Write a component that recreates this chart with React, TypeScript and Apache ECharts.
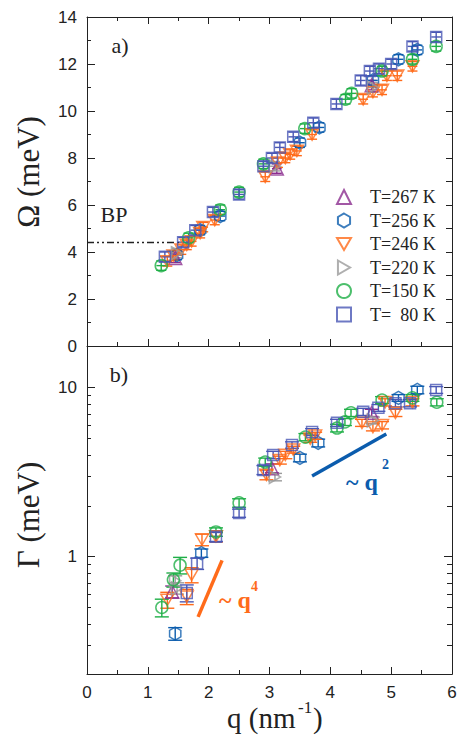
import React, { useEffect, useRef } from 'react';
import * as echarts from 'echarts';

const X_MIN = 0;
const X_MAX = 6;
const OMEGA_MIN = 0;
const OMEGA_MAX = 14;
const GAMMA_MIN = 0.202;
const GAMMA_MAX = 17.65;
const GAMMA_MAJOR = [1, 10];
const GAMMA_MINOR = [0.3, 0.4, 0.5, 0.6, 0.7, 0.8, 0.9, 2, 3, 4, 5, 6, 7, 8, 9];

const NAMES = ['T=267 K', 'T=256 K', 'T=246 K', 'T=220 K', 'T=150 K', 'T=\u00a0\u00a080 K'];
const COLORS = ['#8B2D8F', '#0B5CAD', '#FF6B1A', '#9B9B9B', '#1FAF47', '#4A58B5'];

// panel a) : [q, Omega]
const omega267 = [[1.45, 3.75], [3.12, 7.55], [4.68, 11.1]];
const omega256 = [[1.48, 3.87], [1.86, 4.93], [2.19, 5.53], [3.5, 8.65], [3.82, 9.3], [4.7, 11.3], [5.12, 12.2], [5.43, 12.6]];
const omega246 = [[1.32, 3.6], [1.42, 3.85], [1.55, 4.1], [1.64, 4.3], [1.72, 4.45], [1.86, 4.8], [1.91, 5.06], [2.1, 5.36], [2.93, 7.2], [3.14, 7.8], [3.26, 8.0], [3.34, 8.15], [3.45, 8.3], [3.7, 9.0], [4.54, 10.5], [4.7, 10.8], [4.85, 10.9], [4.93, 11.5], [5.1, 11.5], [5.35, 11.9]];
const omega220 = [[1.48, 3.95], [3.09, 7.65], [4.7, 11.0]];
const omega150 = [[1.22, 3.42], [1.67, 4.6], [2.19, 5.8], [2.5, 6.55], [2.9, 7.75], [3.58, 9.25], [4.25, 10.5], [4.35, 10.75], [4.85, 11.7], [5.35, 12.2], [5.74, 12.75]];
const omega80 = [[1.28, 3.8], [1.58, 4.42], [1.78, 4.93], [2.07, 5.7], [2.5, 6.45], [2.9, 7.65], [3.04, 8.0], [3.17, 8.45], [3.39, 8.9], [3.72, 9.5], [4.1, 10.3], [4.5, 11.3], [4.65, 11.7], [4.8, 11.8], [5.0, 12.0], [5.35, 12.75], [5.74, 13.15]];
const OMEGA_ERR = 0.2;
const Q_ERR = 0.08;

// panel b) : [q, Gamma, error]
const gamma267 = [[1.4, 0.62, 0.05], [3.04, 3.34, 0.2], [4.68, 7.1, 0.35]];
const gamma256 = [[1.45, 0.35, 0.03], [1.88, 1.05, 0.06], [3.5, 3.84, 0.2], [3.8, 4.71, 0.25], [5.12, 8.7, 0.4], [5.43, 9.7, 0.5]];
const gamma246 = [[1.32, 0.555, 0.06], [1.64, 0.58, 0.06], [1.72, 0.78, 0.08], [1.89, 1.26, 0.1], [2.12, 1.32, 0.1], [2.95, 3.05, 0.2], [3.17, 3.73, 0.2], [3.26, 4.0, 0.2], [3.39, 4.3, 0.2], [3.67, 5.0, 0.25], [3.75, 5.2, 0.25], [4.52, 6.2, 0.3], [4.7, 5.85, 0.3], [4.85, 6.0, 0.3], [4.9, 8.2, 0.4], [5.07, 7.1, 0.35], [5.35, 8.2, 0.4]];
const gamma220 = [[1.45, 0.72, 0.05], [1.48, 0.65, 0.05], [3.09, 2.96, 0.15], [4.7, 6.4, 0.3]];
const gamma150 = [[1.23, 0.5, 0.06], [1.42, 0.73, 0.07], [1.53, 0.89, 0.1], [2.12, 1.4, 0.08], [2.5, 2.08, 0.12], [2.93, 3.63, 0.2], [3.59, 5.1, 0.25], [4.11, 5.77, 0.3], [4.24, 6.27, 0.3], [4.34, 7.1, 0.35], [4.85, 8.45, 0.4], [5.35, 8.7, 0.4], [5.75, 8.2, 0.4]];
const gamma80 = [[1.64, 0.61, 0.07], [1.81, 0.91, 0.07], [2.12, 1.31, 0.08], [2.5, 1.81, 0.1], [2.9, 3.26, 0.2], [3.06, 4.0, 0.2], [3.37, 4.58, 0.2], [3.7, 5.47, 0.25], [4.11, 6.2, 0.3], [4.54, 7.2, 0.35], [4.79, 7.6, 0.35], [5.07, 8.1, 0.4], [5.31, 8.1, 0.4], [5.74, 9.7, 0.45]];

const OMEGA_SETS = [omega267, omega256, omega246, omega220, omega150, omega80];
const GAMMA_SETS = [gamma267, gamma256, gamma246, gamma220, gamma150, gamma80];

// guide lines
const bpLine = [[0, 4.4], [1.53, 4.4]];
const q2Line = [[3.7, 3.0], [4.92, 5.32]];
const q4Line = [[1.826, 0.44], [2.22, 0.95]];

const HEX = 'path://M5,0L9.33,2.5L9.33,7.5L5,10L0.67,7.5L0.67,2.5Z';
const DOWN = 'path://M0,0L10,0L5,8.66Z';
const RIGHT = 'path://M0,0L8.66,5L0,10Z';
const SYMBOLS = ['triangle', HEX, DOWN, RIGHT, 'circle', 'rect'];
const SIZES = [13, 13, 13, 13, 12, 11];

const SERIF = '"Liberation Serif", "Times New Roman", serif';
const SANS = '"Liberation Sans", Arial, sans-serif';
const INK = '#222';

function errorSeries(data: number[][], color: string, xi: number, yi: number, cap: number, xErr: number) {
  return {
    type: 'custom',
    coordinateSystem: 'cartesian2d',
    xAxisIndex: xi,
    yAxisIndex: yi,
    silent: true,
    encode: { x: 0, y: 1 },
    data,
    z: 2,
    renderItem: (params: any, api: any) => {
      const x = api.value(0);
      const y = api.value(1);
      const e = api.value(2);
      const c = api.coord([x, y]);
      const lo = api.coord([x, y - e]);
      const hi = api.coord([x, y + e]);
      const style = { stroke: color, lineWidth: 1.4 };
      const children: any[] = [
        { type: 'line', shape: { x1: c[0], y1: lo[1], x2: c[0], y2: hi[1] }, style },
        { type: 'line', shape: { x1: c[0] - cap, y1: lo[1], x2: c[0] + cap, y2: lo[1] }, style },
        { type: 'line', shape: { x1: c[0] - cap, y1: hi[1], x2: c[0] + cap, y2: hi[1] }, style },
      ];
      if (xErr > 0) {
        const l = api.coord([x - xErr, y]);
        const r = api.coord([x + xErr, y]);
        children.push({ type: 'line', shape: { x1: l[0], y1: c[1], x2: r[0], y2: c[1] }, style });
      }
      return { type: 'group', children };
    },
  };
}

export default function App() {
  const ref = useRef<HTMLDivElement>(null);
  useEffect(() => {
    if (!ref.current) return;
    const chart = echarts.init(ref.current, undefined, { renderer: 'svg' });
    const line = { lineStyle: { color: INK, width: 1 } };
    const xBase = (gridIndex: number, position: string, labels: boolean) => ({
      type: 'value', gridIndex, position, min: X_MIN, max: X_MAX, interval: 1,
      axisLine: { show: true, onZero: false, ...line },
      axisTick: { show: true, inside: true, length: 7, ...line },
      minorTick: { show: true, splitNumber: 2, length: 4, ...line },
      axisLabel: { show: labels, color: INK, fontFamily: SANS, fontSize: 17, margin: 10 },
      splitLine: { show: false }, minorSplitLine: { show: false },
    });
    const yLog = (position: string, values: number[], len: number, labels: boolean) => ({
      type: 'log', logBase: 10, gridIndex: 1, position, min: GAMMA_MIN, max: GAMMA_MAX,
      axisLine: { show: true, onZero: false, ...line },
      axisTick: { show: true, inside: true, length: len, customValues: values, ...line },
      axisLabel: { show: labels, customValues: values, color: INK, fontFamily: SANS, fontSize: 17, margin: 10 },
      splitLine: { show: false }, minorTick: { show: false },
    });

    const series: any[] = [];
    NAMES.forEach((name, i) => {
      const common = {
        name, type: 'scatter', symbol: SYMBOLS[i], symbolSize: SIZES[i], symbolKeepAspect: true,
        itemStyle: { color: 'rgba(0,0,0,0)', borderColor: COLORS[i], borderWidth: 1.5 },
        emphasis: { disabled: true }, silent: true, z: 3,
      };
      series.push(errorSeries(OMEGA_SETS[i].map((d) => [d[0], d[1], OMEGA_ERR]), COLORS[i], 0, 0, 5, Q_ERR));
      series.push({ ...common, xAxisIndex: 0, yAxisIndex: 0, data: OMEGA_SETS[i] });
      series.push(errorSeries(GAMMA_SETS[i], COLORS[i], 2, 2, 7, 0));
      series.push({ ...common, xAxisIndex: 2, yAxisIndex: 2, data: GAMMA_SETS[i].map((d) => [d[0], d[1]]) });
    });
    series.push({
      type: 'line', xAxisIndex: 0, yAxisIndex: 0, data: bpLine, symbol: 'none', silent: true,
      lineStyle: { color: INK, width: 1.5, type: [7, 3, 2, 3, 2, 3] },
    });
    series.push({
      type: 'line', xAxisIndex: 2, yAxisIndex: 2, data: q2Line, symbol: 'none', silent: true,
      lineStyle: { color: '#0B5CAD', width: 3.5 },
    });
    series.push({
      type: 'line', xAxisIndex: 2, yAxisIndex: 2, data: q4Line, symbol: 'none', silent: true,
      lineStyle: { color: '#FF6B1A', width: 3.5 },
    });

    const txt = (x: number, y: number, text: string, font: string, fill = INK, extra: any = {}) => ({
      type: 'text', x, y, silent: true, ...extra,
      style: { text, font, fill, align: extra.align || 'left', verticalAlign: 'middle' },
    });

    chart.setOption({
      animation: false,
      backgroundColor: '#fff',
      grid: [
        { left: 87, top: 17, width: 365, height: 329, outerBoundsMode: 'none', containLabel: false },
        { left: 87, top: 346, width: 365, height: 328, outerBoundsMode: 'none', containLabel: false },
      ],
      xAxis: [xBase(0, 'bottom', false), xBase(0, 'top', false), xBase(1, 'bottom', true)],
      yAxis: [
        {
          type: 'value', gridIndex: 0, position: 'left', min: OMEGA_MIN, max: OMEGA_MAX, interval: 2,
          axisLine: { show: true, onZero: false, ...line },
          axisTick: { show: true, inside: true, length: 8, ...line },
          minorTick: { show: true, splitNumber: 2, length: 4, ...line },
          axisLabel: { color: INK, fontFamily: SANS, fontSize: 17, margin: 10 },
          splitLine: { show: false }, minorSplitLine: { show: false },
        },
        {
          type: 'value', gridIndex: 0, position: 'right', min: OMEGA_MIN, max: OMEGA_MAX, interval: 1,
          axisLine: { show: true, onZero: false, ...line },
          axisTick: { show: true, inside: true, length: 6, ...line },
          axisLabel: { show: false }, splitLine: { show: false },
        },
        yLog('left', GAMMA_MAJOR, 8, true),
        yLog('left', GAMMA_MINOR, 4, false),
        yLog('right', GAMMA_MAJOR, 8, false),
        yLog('right', GAMMA_MINOR, 5, false),
      ],
      legend: {
        orient: 'vertical', left: 331, top: 183, itemWidth: 14, itemHeight: 14, itemGap: 5.5,
        selectedMode: false,
        textStyle: { fontFamily: SERIF, fontSize: 18, color: INK, padding: [0, 0, 0, 14] },
        data: NAMES.map((name, i) => ({
          name, icon: SYMBOLS[i],
          itemStyle: { color: 'rgba(0,0,0,0)', borderColor: COLORS[i], borderWidth: 2 },
        })),
      },
      graphic: [
        txt(120, 45, 'a)', `22px ${SERIF}`, INK, { align: 'center' }),
        txt(119, 374, 'b)', `22px ${SERIF}`, INK, { align: 'center' }),
        txt(114, 214, 'BP', `22px ${SERIF}`, INK, { align: 'center' }),
        txt(28, 172, 'Ω (meV)', `31px ${SERIF}`, INK, { align: 'center', rotation: Math.PI / 2 }),
        txt(28, 515, 'Γ (meV)', `31px ${SERIF}`, INK, { align: 'center', rotation: Math.PI / 2 }),
        txt(227, 718, 'q (nm', `29px ${SERIF}`),
        txt(298, 707, '-1', `17px ${SERIF}`),
        txt(313, 718, ')', `29px ${SERIF}`),
        txt(346, 482, '~ q', `bold 24px ${SERIF}`, '#0B5CAD'),
        txt(382, 464, '2', `bold 14px ${SERIF}`, '#0B5CAD'),
        txt(219, 600, '~ q', `bold 24px ${SERIF}`, '#FF6B1A'),
        txt(251, 586, '4', `bold 14px ${SERIF}`, '#FF6B1A'),
      ],
      series,
    });
    return () => chart.dispose();
  }, []);
  return <div ref={ref} style={{ position: 'fixed', left: 0, top: 0, width: 458, height: 746, background: '#fff' }} />;
}
